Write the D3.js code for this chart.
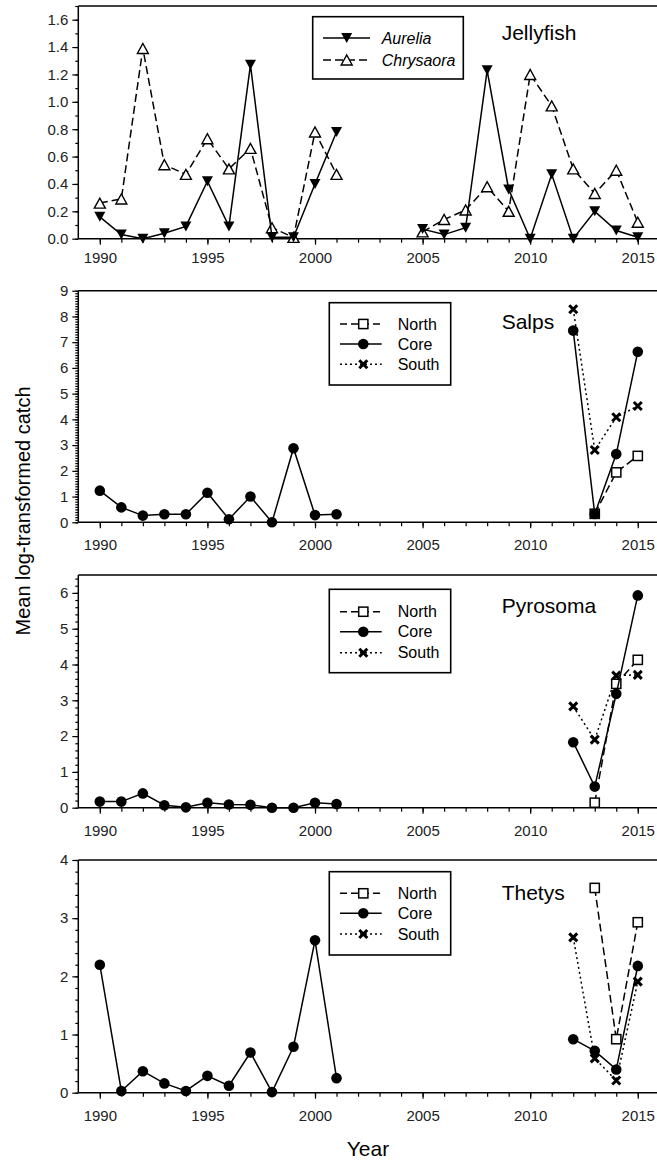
<!DOCTYPE html>
<html><head><meta charset="utf-8">
<script src="https://cdn.jsdelivr.net/npm/d3@7"></script>
<style>
html,body{margin:0;padding:0;background:#fff;}
svg{display:block;font-family:"Liberation Sans",Arial,sans-serif;}
</style></head>
<body>
<svg id="c" width="657" height="1162"></svg>
<script>
// ---------- DATA ----------
const years = d3.range(1990, 2016); // 1990..2015
const xTickYears = d3.range(1990, 2016);
const xLabelYears = [1990, 1995, 2000, 2005, 2010, 2015];

const aurelia   = [0.16,0.03,0.00,0.04,0.09,0.42,0.09,1.27,0.01,0.01,0.40,0.78, null,null,null, 0.07,0.03,0.08,1.23,0.36,0.00,0.47,0.00,0.20,0.06,0.01];
const chrysaora = [0.26,0.29,1.39,0.54,0.47,0.73,0.51,0.66,0.08,0.01,0.78,0.47, null,null,null, 0.05,0.14,0.21,0.38,0.20,1.20,0.97,0.51,0.33,0.50,0.12];

const salpsCore  = [1.23,0.58,0.26,0.31,0.31,1.15,0.12,1.00,0.00,2.88,0.28,0.31, null,null,null,null,null,null,null,null,null,null, 7.45,0.32,2.65,6.63];
const salpsNorth = [null,null,null,null,null,null,null,null,null,null,null,null, null,null,null,null,null,null,null,null,null,null, null,0.33,1.94,2.58];
const salpsSouth = [null,null,null,null,null,null,null,null,null,null,null,null, null,null,null,null,null,null,null,null,null,null, 8.28,2.81,4.08,4.52];

const pyroCore  = [0.17,0.17,0.40,0.07,0.01,0.14,0.09,0.08,0.00,0.00,0.14,0.10, null,null,null,null,null,null,null,null,null,null, 1.83,0.59,3.18,5.93];
const pyroNorth = [null,null,null,null,null,null,null,null,null,null,null,null, null,null,null,null,null,null,null,null,null,null, null,0.14,3.46,4.13];
const pyroSouth = [null,null,null,null,null,null,null,null,null,null,null,null, null,null,null,null,null,null,null,null,null,null, 2.83,1.90,3.69,3.71];

const thetCore  = [2.20,0.03,0.37,0.16,0.03,0.29,0.12,0.69,0.01,0.79,2.62,0.25, null,null,null,null,null,null,null,null,null,null, 0.92,0.72,0.40,2.18];
const thetNorth = [null,null,null,null,null,null,null,null,null,null,null,null, null,null,null,null,null,null,null,null,null,null, null,3.52,0.92,2.93];
const thetSouth = [null,null,null,null,null,null,null,null,null,null,null,null, null,null,null,null,null,null,null,null,null,null, 2.67,0.59,0.21,1.91];

const panelTitles = ["Jellyfish", "Salps", "Pyrosoma", "Thetys"];
const jellyLegend = ["Aurelia", "Chrysaora"];
const regionLegend = ["North", "Core", "South"];
const yMax = [1.7, 9, 6.5, 4];
const yMajorStep = [0.2, 1, 1, 1];
const yMinorStep = [0.1, 0.1, 0.2, 0.2];
const yMajorMax = [1.6, 9, 6, 4];

// ---------- LAYOUT ----------
const svg = d3.select("#c");
const x = d3.scaleLinear().domain([1989, 2016]).range([78.3, 659.3]);
const rightEdge = 657;
const panels = [
  {top: 6,     bottom: 238.7, lab: 18.5, title: 40,  legend: {x0:312.7, x1:463.3, y0:16.7, y1:79,  rows:[38,60], line:[323,370], sym:346.7, text:381.7}},
  {top: 290.7, bottom: 522.3, lab: 22.5, title: 329, legend: {x0:329.3, x1:450.7, y0:302.7, y1:385, rows:[324,344,364.3], line:[340,381.7], sym:363.3, text:397.7}},
  {top: 575,   bottom: 807.7, lab: 22.5, title: 613, legend: {x0:329.3, x1:450.7, y0:589.3, y1:672.7, rows:[611.7,631.7,652.7], line:[340,381.7], sym:363.3, text:397.7}},
  {top: 860,   bottom: 1092.7, lab: 22.5, title: 900, legend: {x0:329.3, x1:450.7, y0:871.7, y1:955, rows:[893.3,913.3,934], line:[340,381.7], sym:363.3, text:397.7}}
];

const styles = {
  solid:  null,
  dashed: "8,4",
  dotted: "2,3"
};

function marker(g, type, cx, cy) {
  if (type === "circle") {
    g.append("circle").attr("cx", cx).attr("cy", cy).attr("r", 5.3).attr("fill", "#000");
  } else if (type === "square") {
    g.append("rect").attr("x", cx-4.6).attr("y", cy-4.6).attr("width", 9.2).attr("height", 9.2)
      .attr("fill", "#fff").attr("stroke", "#000").attr("stroke-width", 1.5);
  } else if (type === "cross") {
    const s = 4;
    g.append("path").attr("d", `M${cx-s},${cy-s}L${cx+s},${cy+s}M${cx-s},${cy+s}L${cx+s},${cy-s}`)
      .attr("stroke", "#000").attr("stroke-width", 3).attr("fill", "none");
  } else if (type === "tridown") {
    const w = 5.5, h = 5;
    g.append("path").attr("d", `M${cx-w},${cy-h}L${cx+w},${cy-h}L${cx},${cy+h}Z`).attr("fill", "#000");
  } else if (type === "triup") {
    const w = 5.5, h = 5;
    g.append("path").attr("d", `M${cx-w},${cy+h}L${cx+w},${cy+h}L${cx},${cy-h}Z`)
      .attr("fill", "#fff").attr("stroke", "#000").attr("stroke-width", 1.4);
  }
}

function drawSeries(g, y, vals, dash, mk) {
  const pts = years.map((yr, i) => ({yr, v: vals[i]}));
  const line = d3.line().defined(d => d.v != null).x(d => x(d.yr)).y(d => y(d.v));
  g.append("path").datum(pts).attr("d", line).attr("fill", "none")
    .attr("stroke", "#000").attr("stroke-width", 1.5)
    .attr("stroke-dasharray", dash);
  pts.filter(d => d.v != null).forEach(d => marker(g, mk, x(d.yr), y(d.v)));
}

const seriesByPanel = [
  [[chrysaora, styles.dashed, "triup"], [aurelia, styles.solid, "tridown"]],
  [[salpsSouth, styles.dotted, "cross"], [salpsNorth, styles.dashed, "square"], [salpsCore, styles.solid, "circle"]],
  [[pyroSouth, styles.dotted, "cross"], [pyroNorth, styles.dashed, "square"], [pyroCore, styles.solid, "circle"]],
  [[thetSouth, styles.dotted, "cross"], [thetNorth, styles.dashed, "square"], [thetCore, styles.solid, "circle"]]
];

panels.forEach((p, pi) => {
  const g = svg.append("g");
  const y = d3.scaleLinear().domain([0, yMax[pi]]).range([p.bottom, p.top]);

  // frame: top line, left axis, bottom axis
  g.append("line").attr("x1", x.range()[0]).attr("x2", rightEdge).attr("y1", p.top).attr("y2", p.top)
    .attr("stroke", "#000").attr("stroke-width", 1.5);

  // y axis
  const majors = d3.range(0, yMajorMax[pi] + 1e-9, yMajorStep[pi]);
  const minors = d3.range(0, yMax[pi] + 1e-9, yMinorStep[pi]);
  const fmt = pi === 0 ? d3.format(".1f") : d3.format("d");
  const yAxisMinor = d3.axisLeft(y).tickValues(minors).tickSize(3).tickFormat("");
  const yAxisMajor = d3.axisLeft(y).tickValues(majors).tickSize(6).tickPadding(4).tickFormat(fmt);
  const ya1 = g.append("g").attr("transform", `translate(${x.range()[0]},0)`).call(yAxisMinor);
  const ya2 = g.append("g").attr("transform", `translate(${x.range()[0]},0)`).call(yAxisMajor);
  [ya1, ya2].forEach(a => {
    a.select(".domain").remove();
    a.selectAll("line").attr("stroke", "#000").attr("stroke-width", 1.2);
  });
  ya2.selectAll("text").attr("font-size", 15).attr("fill", "#222")
    .attr("font-family", "Liberation Sans, Arial, sans-serif");
  g.append("line").attr("x1", x.range()[0]).attr("x2", x.range()[0]).attr("y1", p.top).attr("y2", p.bottom)
    .attr("stroke", "#000").attr("stroke-width", 1.5);

  // x axis
  const xAxisMinor = d3.axisBottom(x).tickValues(xTickYears).tickSize(4).tickFormat("");
  const xAxisMajor = d3.axisBottom(x).tickValues(xLabelYears).tickSize(6).tickPadding(p.lab - 11).tickFormat(d3.format("d"));
  const xa1 = g.append("g").attr("transform", `translate(0,${p.bottom})`).call(xAxisMinor);
  const xa2 = g.append("g").attr("transform", `translate(0,${p.bottom})`).call(xAxisMajor);
  [xa1, xa2].forEach(a => {
    a.select(".domain").remove();
    a.selectAll("line").attr("stroke", "#000").attr("stroke-width", 1.2);
  });
  xa2.selectAll("text").attr("font-size", 15).attr("fill", "#222")
    .attr("font-family", "Liberation Sans, Arial, sans-serif");
  g.append("line").attr("x1", x.range()[0]).attr("x2", rightEdge).attr("y1", p.bottom).attr("y2", p.bottom)
    .attr("stroke", "#000").attr("stroke-width", 1.5);

  // series
  seriesByPanel[pi].forEach(s => drawSeries(g, y, s[0], s[1], s[2]));

  // title
  g.append("text").attr("x", 501.7).attr("y", p.title).attr("font-size", 21).attr("fill", "#000")
    .text(panelTitles[pi]);

  // legend
  const L = p.legend;
  g.append("rect").attr("x", L.x0).attr("y", L.y0).attr("width", L.x1 - L.x0).attr("height", L.y1 - L.y0)
    .attr("fill", "#fff").attr("stroke", "#000").attr("stroke-width", 1.6);
  let entries;
  if (pi === 0) {
    entries = [[jellyLegend[0], styles.solid, "tridown", true], [jellyLegend[1], styles.dashed, "triup", true]];
  } else {
    entries = [[regionLegend[0], "7,4", "square", false], [regionLegend[1], styles.solid, "circle", false], [regionLegend[2], styles.dotted, "cross", false]];
  }
  entries.forEach((e, i) => {
    const ry = L.rows[i];
    g.append("line").attr("x1", L.line[0]).attr("x2", L.line[1]).attr("y1", ry).attr("y2", ry)
      .attr("stroke", "#000").attr("stroke-width", 1.5).attr("stroke-dasharray", e[1]);
    marker(g, e[2], L.sym, ry);
    g.append("text").attr("x", L.text).attr("y", ry + 5.5).attr("font-size", 16)
      .attr("font-style", e[3] ? "italic" : "normal").attr("fill", "#000").text(e[0]);
  });
});

// axis titles
svg.append("text").attr("x", 368).attr("y", 1156).attr("text-anchor", "middle")
  .attr("font-size", 21).attr("fill", "#000").text("Year");
svg.append("text").attr("transform", "translate(29.5,511) rotate(-90)").attr("text-anchor", "middle")
  .attr("font-size", 20).attr("fill", "#000").text("Mean log-transformed catch");
</script>
</body></html>
